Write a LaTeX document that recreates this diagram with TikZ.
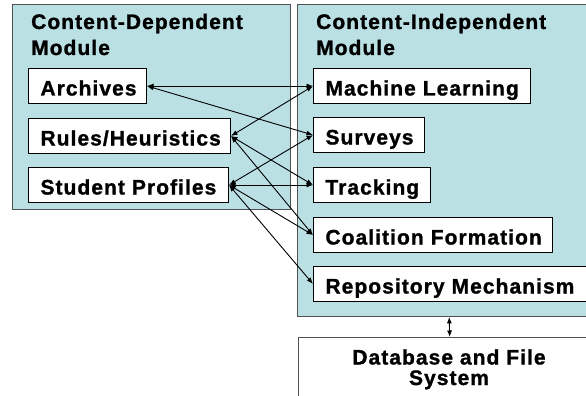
\documentclass[tikz,border=0pt]{standalone}
\usepackage{fontspec}
\setmainfont{Liberation Sans}[LetterSpace=5, BoldFeatures={FakeBold=1.2}]
\usetikzlibrary{arrows.meta}
\definecolor{modfill}{RGB}{186,224,228}
\definecolor{modline}{RGB}{80,80,80}
\tikzset{
  txt/.style={font=\bfseries\fontsize{21}{26}\selectfont},
  module/.style={draw=modline, line width=1.4pt, fill=modfill, anchor=north west, inner sep=0pt},
  heading/.style={txt, anchor=base west, inner sep=0pt, align=left},
  itembox/.style={txt, draw=black, line width=1pt, fill=white, anchor=north west,
    minimum height=35pt, inner xsep=12pt, inner ysep=0pt, text height=19pt, text depth=0pt,
    align=left, text width=#1},
  conn/.style={draw=black, line width=0.9pt, {Latex[length=6.5pt,width=5pt]}-{Latex[length=6.5pt,width=5pt]}},
  dbbox/.style={txt, draw=modline, line width=1.4pt, fill=white, anchor=north west,
    minimum width=302pt, minimum height=80pt, inner sep=0pt},
}
\begin{document}
\begin{tikzpicture}[x=1pt,y=-1pt]
\useasboundingbox (0,0) rectangle (586,396);
\clip (0,0) rectangle (586,396);
% modules
\node[module, minimum width=278.5pt, minimum height=204.5pt] (leftmod) at (11.5,4) {};
\node[module, minimum width=303pt, minimum height=311.5pt] (rightmod) at (297,4) {};
\node[heading] (lhead) at (31,55) {Content-Dependent\\Module};
\node[heading] (rhead) at (316,55) {Content-Independent\\Module};
% left items
\node[itembox=94pt] (archives) at (28,68) {Archives};
\node[itembox=178pt] (rules) at (28,118) {Rules/Heuristics};
\node[itembox=176pt] (profiles) at (28,167) {Student Profiles};
% right items
\node[itembox=193pt] (ml) at (313,68) {Machine Learning};
\node[itembox=87pt] (surveys) at (313,117) {Surveys};
\node[itembox=93pt] (tracking) at (313,167) {Tracking};
\node[itembox=215pt] (coalition) at (313,217) {Coalition Formation};
\node[itembox=263pt] (repository) at (313,266) {Repository Mechanism};
% database
\node[dbbox] (db) at (298,337) {};
\node[align=center, inner sep=0pt, anchor=base, font=\bfseries\fontsize{21}{20.5}\selectfont] (dbtext) at (449,385) {Database and File\\System};
% connectors
\draw[conn] (archives.east) -- (ml.west);
\draw[conn] (archives.east) -- (surveys.west);
\draw[conn] (rules.east) -- (ml.west);
\draw[conn] (rules.east) -- (tracking.west);
\draw[conn] (rules.east) -- (coalition.west);
\draw[conn] (profiles.east) -- (surveys.west);
\draw[conn] (profiles.east) -- (tracking.west);
\draw[conn] (profiles.east) -- (coalition.west);
\draw[conn] (profiles.east) -- (repository.west);
\draw[conn] (rightmod.south) -- (db.north);
\end{tikzpicture}
\end{document}
